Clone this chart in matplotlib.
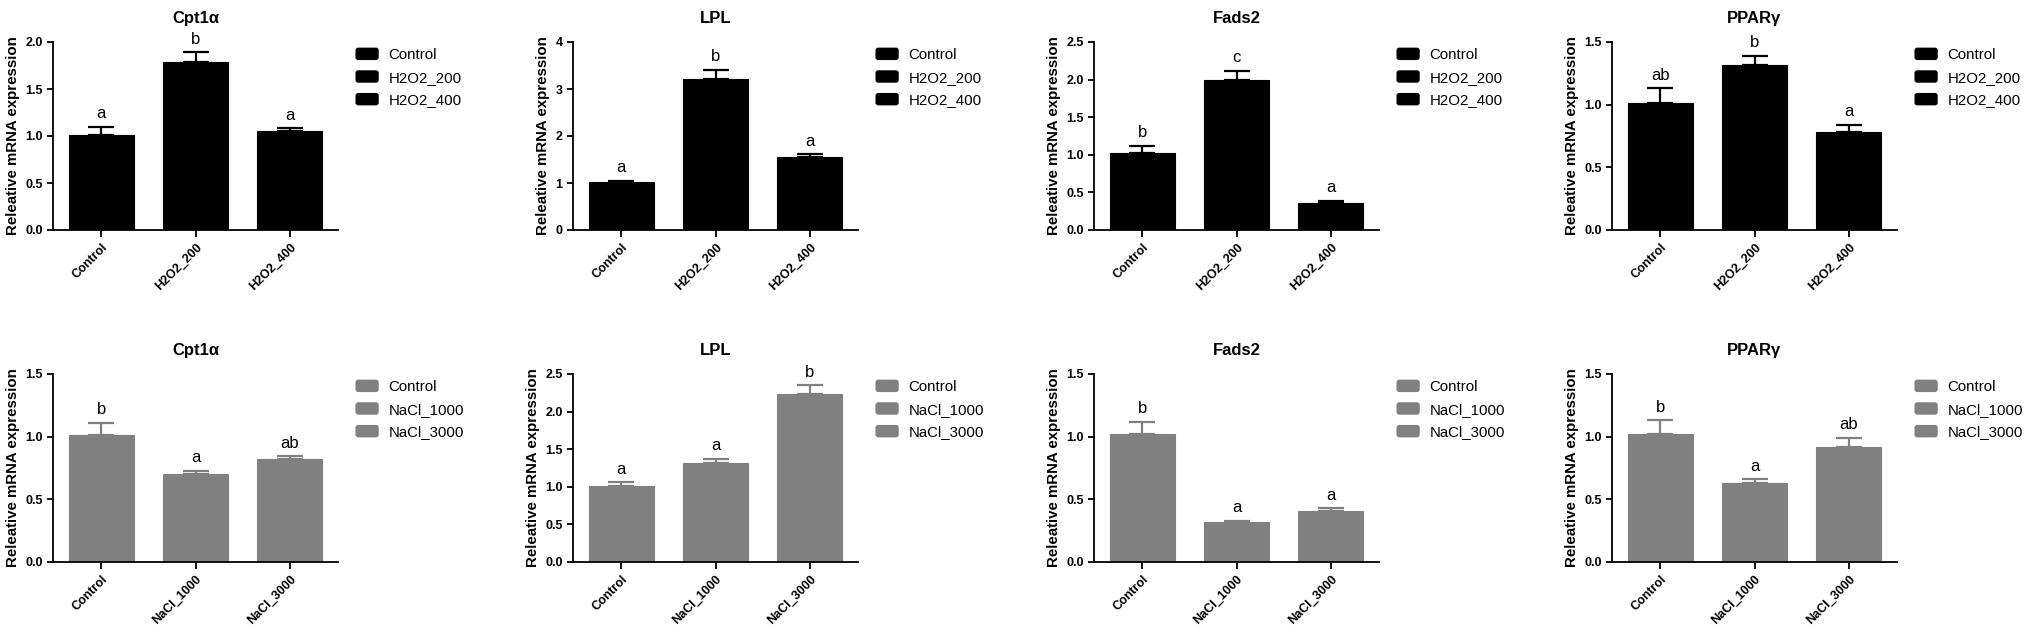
import numpy as np
import matplotlib
matplotlib.use("Agg")
import matplotlib.pyplot as plt
from matplotlib.patches import FancyBboxPatch, Rectangle
from matplotlib.legend_handler import HandlerPatch

plt.rcParams['font.family'] = ['Liberation Sans', 'DejaVu Sans']

genes = ["Cpt1\u03b1", "LPL", "Fads2", "PPAR\u03b3"]

# top row: H2O2 treatment
h2o2_groups = ["Control", "H2O2_200", "H2O2_400"]
h2o2_mean = [[1.01, 1.79, 1.05],
             [1.02, 3.21, 1.56],
             [1.02, 2.00, 0.36],
             [1.01, 1.32, 0.78]]
h2o2_err = [[0.09, 0.10, 0.03],
            [0.03, 0.20, 0.05],
            [0.10, 0.12, 0.025],
            [0.12, 0.07, 0.06]]
h2o2_letters = [["a", "b", "a"],
                ["a", "b", "a"],
                ["b", "c", "a"],
                ["ab", "b", "a"]]
h2o2_ymax = [2.0, 4, 2.5, 1.5]
h2o2_step = [0.5, 1, 0.5, 0.5]

# bottom row: NaCl treatment
nacl_groups = ["Control", "NaCl_1000", "NaCl_3000"]
nacl_mean = [[1.01, 0.70, 0.82],
             [1.01, 1.32, 2.24],
             [1.02, 0.32, 0.405],
             [1.02, 0.63, 0.92]]
nacl_err = [[0.10, 0.03, 0.025],
            [0.05, 0.05, 0.11],
            [0.10, 0.01, 0.025],
            [0.11, 0.03, 0.07]]
nacl_letters = [["b", "a", "ab"],
                ["a", "a", "b"],
                ["b", "a", "a"],
                ["b", "a", "ab"]]
nacl_ymax = [1.5, 2.5, 1.5, 1.5]
nacl_step = [0.5, 0.5, 0.5, 0.5]

W, H = 2032, 637
fig = plt.figure(figsize=(W / 100, H / 100), dpi=100)

lefts = [53, 573, 1094, 1612]
ax_w = 285


class RoundHandler(HandlerPatch):
    # rounded legend keys like the prism style
    def create_artists(self, legend, orig_handle, xdescent, ydescent,
                       width, height, fontsize, trans):
        r = 2.0
        p = FancyBboxPatch((-xdescent + r, -ydescent + r), width - 2 * r, height - 2 * r,
                           boxstyle=f"round,pad={r}", facecolor=orig_handle.get_facecolor(),
                           edgecolor="none", transform=trans)
        return [p]


def panel(ax, title, groups, mean, err, letters, ymax, step, color):
    x = np.arange(len(groups))
    bars = ax.bar(x, mean, width=0.69, color=color, edgecolor=color, linewidth=0.8)
    ax.errorbar(x, mean, yerr=[np.zeros(len(mean)), err], fmt="none",
                ecolor=color, elinewidth=1.6, capsize=9.5, capthick=1.6)
    for xi, m, e, l in zip(x, mean, err, letters):
        ax.annotate(l, (xi, m + e), xytext=(0, 4), textcoords="offset points",
                    ha="center", va="bottom", fontsize=12)
    ax.set_xlim(-0.51, len(groups) - 0.49)
    ax.set_ylim(0, ymax)
    ticks = np.arange(0, ymax + step / 2, step)
    ax.set_yticks(ticks)
    if step >= 1:
        ax.set_yticklabels([f"{t:.0f}" for t in ticks])
    else:
        ax.set_yticklabels([f"{t:.1f}" for t in ticks])
    ax.set_xticks(x)
    ax.set_xticklabels(groups, rotation=45, ha="right", rotation_mode="anchor")
    for s in ["top", "right"]:
        ax.spines[s].set_visible(False)
    for s in ["left", "bottom"]:
        ax.spines[s].set_linewidth(1.3)
    ax.tick_params(axis="both", width=1.3, length=4, labelsize=9)
    ax.tick_params(axis="x", length=5, pad=3)
    for lab in ax.get_xticklabels() + ax.get_yticklabels():
        lab.set_fontweight("bold")
    ax.set_title(title, fontsize=12, fontweight="bold", pad=14)
    ax.set_ylabel("Releative mRNA expression", fontsize=10.8, fontweight="bold", labelpad=4)
    ax.legend(list(bars), groups, loc="upper left", bbox_to_anchor=(1.035, 1.01),
              frameon=False, fontsize=10.8, handlelength=1.55, handleheight=0.9,
              labelspacing=0.55, handletextpad=0.65, borderpad=0,
              handler_map={Rectangle: RoundHandler()})


for i in range(4):
    ax = fig.add_axes([lefts[i] / W, (H - 230) / H, ax_w / W, 188 / H])
    panel(ax, genes[i], h2o2_groups, h2o2_mean[i], h2o2_err[i], h2o2_letters[i],
          h2o2_ymax[i], h2o2_step[i], "black")
    ax = fig.add_axes([lefts[i] / W, (H - 562) / H, ax_w / W, 188 / H])
    panel(ax, genes[i], nacl_groups, nacl_mean[i], nacl_err[i], nacl_letters[i],
          nacl_ymax[i], nacl_step[i], "#808080")

fig.savefig("out.png", dpi=100)
